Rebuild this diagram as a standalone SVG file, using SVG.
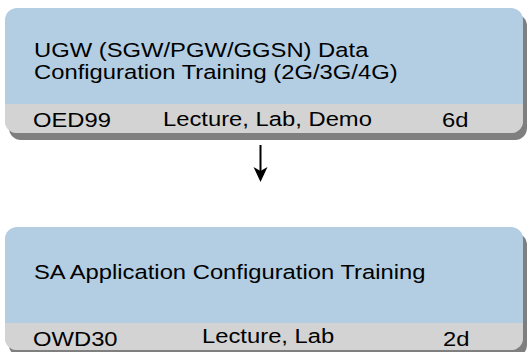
<svg xmlns="http://www.w3.org/2000/svg" width="530" height="352" viewBox="0 0 530 352">
<style>
.shadow{fill:#7f7f7f}
.body{fill:#b3cee3}
.band{fill:#d3d3d3}
.t{font-family:"Liberation Sans",Arial,sans-serif;font-size:19.5px;fill:#000}
</style>
<defs>
<clipPath id="c1"><rect x="5" y="8" width="518" height="125" rx="12"/></clipPath>
<clipPath id="c2"><rect x="5" y="227" width="518" height="123" rx="12"/></clipPath>
</defs>
<g id="course1">
<rect class="shadow" x="9" y="14" width="518" height="126" rx="12"/>
<g clip-path="url(#c1)">
<rect class="body" x="5" y="8" width="518" height="125"/>
<rect class="band" x="5" y="104" width="518" height="29"/>
</g>
<g transform="scale(1.22,1)">
<text class="t" x="27.87" y="57">UGW (SGW/PGW/GGSN) Data</text>
<text class="t" x="27.87" y="79">Configuration Training (2G/3G/4G)</text>
<text class="t" x="27.05" y="127">OED99</text>
<text class="t" x="133.6" y="126">Lecture, Lab, Demo</text>
<text class="t" x="362.3" y="127">6d</text>
</g>
</g>
<g id="course2">
<rect class="shadow" x="9" y="233" width="518" height="124" rx="12"/>
<g clip-path="url(#c2)">
<rect class="body" x="5" y="227" width="518" height="123"/>
<rect class="band" x="5" y="323" width="518" height="27"/>
</g>
<g transform="scale(1.22,1)">
<text class="t" x="27.87" y="279">SA Application Configuration Training</text>
<text class="t" x="27.05" y="346">OWD30</text>
<text class="t" x="165.6" y="343">Lecture, Lab</text>
<text class="t" x="363.1" y="346">2d</text>
</g>
</g>
<g id="connectors">
<line x1="260.5" y1="145" x2="260.5" y2="172" stroke="#000" stroke-width="2"/>
<polygon points="253.5,167 260.5,171 267.5,167 260.5,182" fill="#000"/>
</g>
</svg>
